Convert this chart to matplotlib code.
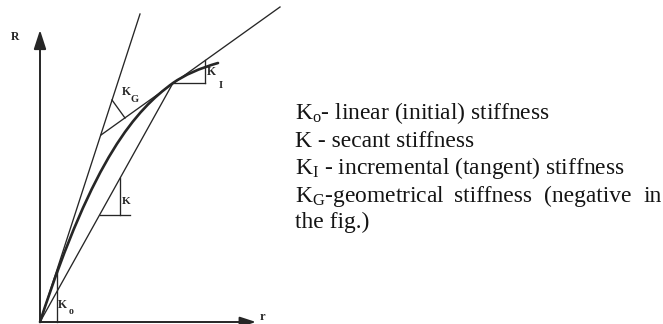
import matplotlib
matplotlib.use("Agg")
import matplotlib.pyplot as plt
from matplotlib.path import Path
from matplotlib.patches import PathPatch

plt.rcParams['mathtext.fontset'] = 'custom'
plt.rcParams['mathtext.rm'] = 'Liberation Serif'
plt.rcParams['mathtext.it'] = 'Liberation Serif'

# stiffness construction, in px measured from the origin (r to the right, R up)
r_axis_end = 216
R_axis_end = 292

k0_line_r = [0, 100]
k0_line_R = [0, 308]

secant_r = [0, 133]
secant_R = [0, 239]

tangent_r = [61, 240]
tangent_R = [187, 315]

# Bezier vertices of the load-displacement curve
curve_r = [0, 54, 96, 133, 150, 178]
curve_R = [0, 166, 212, 239, 251, 259]

# slope triangles and the K_G angle mark
k0_tri_r, k0_tri_R = [17, 17], [0, 52]
k_hor_r, k_hor_R = [59.5, 90], [107, 107]
k_ver_r, k_ver_R = [80, 80], [107, 144]
ki_hor_r, ki_hor_R = [133, 165], [239, 239]
ki_ver_r, ki_ver_R = [165, 165], [239, 262]
kg_mark_r, kg_mark_R = [72, 85], [222, 204]

legend_lines = [
    r'K$_{\rm o}$- linear (initial) stiffness',
    'K - secant stiffness',
    r'K$_{\rm I}$ - incremental (tangent) stiffness',
    None,
    'the fig.)',
]
kg_words = [r'K$_{\rm G}$-geometrical', 'stiffness', '(negative', 'in']
kg_word_x = [255, 414, 504, 603]
legend_baselines = [202.7, 175.3, 148, 120.3, 93.7]

fig = plt.figure(figsize=(6.63, 3.24), dpi=100)
ax = fig.add_axes([0, 0, 1, 1])
ax.set_xlim(-40, 623)
ax.set_ylim(-2, 322)
ax.axis('off')

ink = '#262626'
thin = 0.95

# axes with arrow heads
ax.annotate('', xy=(0, R_axis_end), xytext=(0, 0),
            arrowprops=dict(arrowstyle='-|>,head_length=0.8,head_width=0.26',
                            mutation_scale=14.4, lw=1.4, color=ink,
                            shrinkA=0, shrinkB=0))
ax.annotate('', xy=(r_axis_end, 0), xytext=(0, 0),
            arrowprops=dict(arrowstyle='-|>,head_length=0.8,head_width=0.26',
                            mutation_scale=12, lw=1.4, color=ink,
                            shrinkA=0, shrinkB=0))

ax.plot(k0_line_r, k0_line_R, color=ink, lw=thin)
ax.plot(secant_r, secant_R, color=ink, lw=thin)
ax.plot(tangent_r, tangent_R, color=ink, lw=thin)

codes = [Path.MOVETO, Path.CURVE4, Path.CURVE4, Path.CURVE4, Path.CURVE3, Path.CURVE3]
curve = Path(list(zip(curve_r, curve_R)), codes)
ax.add_patch(PathPatch(curve, fill=False, lw=1.9, edgecolor=ink, capstyle='round'))

for xs, ys in [(k0_tri_r, k0_tri_R), (k_hor_r, k_hor_R), (k_ver_r, k_ver_R),
               (ki_hor_r, ki_hor_R), (ki_ver_r, ki_ver_R), (kg_mark_r, kg_mark_R)]:
    ax.plot(xs, ys, color=ink, lw=thin)

lab = dict(family='Liberation Serif', weight='bold', color=ink,
           ha='center', va='center')
ax.text(-25, 285, 'R', fontsize=8.5, **lab)
ax.text(222, -1.5, 'r', fontsize=9, family='Liberation Serif', weight='bold',
        color=ink, ha='center', va='bottom')
ax.text(22, 17, 'K', fontsize=8.5, **lab)
ax.text(31, 10, 'o', fontsize=7, **lab)
ax.text(86, 120, 'K', fontsize=8, **lab)
ax.text(86, 230, 'K', fontsize=8.5, **lab)
ax.text(95, 222, 'G', fontsize=7.5, **lab)
ax.text(171, 250, 'K', fontsize=8.5, **lab)
ax.text(181, 237, 'I', fontsize=7.5, **lab)

txt = dict(family='Liberation Serif', fontsize=16.9, color='#141414',
           ha='left', va='baseline')
for line, base in zip(legend_lines, legend_baselines):
    if line is not None:
        ax.text(255, base, line, **txt)
for word, x in zip(kg_words, kg_word_x):
    ax.text(x, legend_baselines[3], word, **txt)

fig.savefig('out.png', dpi=100)
